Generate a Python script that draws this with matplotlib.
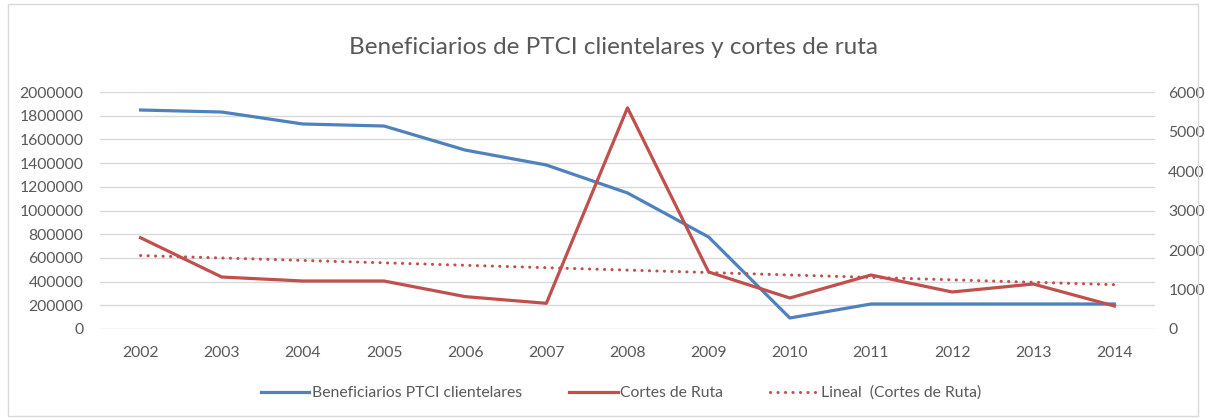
import matplotlib.pyplot as plt
import numpy as np
from matplotlib.patches import Rectangle

plt.rcParams['font.family'] = ['Lato', 'DejaVu Sans']

anios = ["2002", "2003", "2004", "2005", "2006", "2007", "2008",
         "2009", "2010", "2011", "2012", "2013", "2014"]
beneficiarios = [1848000, 1831000, 1730000, 1713000, 1510000, 1384000, 1148000,
                 776000, 93000, 211000, 211000, 211000, 211000]
cortes = [2310, 1316, 1215, 1215, 820, 650, 5600,
          1443, 785, 1367, 937, 1139, 582]

azul = "#4F81BD"
rojo = "#C0504D"
gris = "#595959"

fig = plt.figure(figsize=(12.05, 4.18), dpi=100)
ax = fig.add_axes([100 / 1205, 1 - 329 / 418, 1055 / 1205, 237 / 418])
ax2 = ax.twinx()

x = np.arange(len(anios))
l1, = ax.plot(x, beneficiarios, color=azul, lw=2.3, solid_joinstyle="round")
l2, = ax2.plot(x, cortes, color=rojo, lw=2.3, solid_joinstyle="round")
coef = np.polyfit(x, cortes, 1)
l3, = ax2.plot(x, np.polyval(coef, x), color=rojo, lw=2.2, linestyle=(0, (0.05, 2.4)),
               dash_capstyle="round")

ax.set_xlim(-0.5, 12.5)
ax.set_ylim(0, 2000000)
ax.set_yticks(np.arange(0, 2000001, 200000))
ax.set_yticklabels([str(v) for v in range(0, 2000001, 200000)])
ax2.set_ylim(0, 6000)
ax2.set_yticks(np.arange(0, 6001, 1000))
ax.set_xticks(x)
ax.set_xticklabels(anios)

ax.grid(axis="y", color="#D9D9D9", lw=1)
ax.set_axisbelow(True)
for a in (ax, ax2):
    for s in a.spines.values():
        s.set_visible(False)
    a.tick_params(length=0, labelsize=11.3, colors=gris)
ax.tick_params(axis="y", pad=12)
ax.tick_params(axis="x", pad=12)
ax2.tick_params(axis="y", pad=9.5)

fig.text(0.509, 1 - 48 / 418, "Beneficiarios de PTCI clientelares y cortes de ruta",
         ha="center", va="center", fontsize=17.5, color=gris)

fig.legend([l1, l2, l3],
           ["Beneficiarios PTCI clientelares", "Cortes de Ruta", "Lineal  (Cortes de Ruta)"],
           loc="center", bbox_to_anchor=(621 / 1205, 1 - 393 / 418), ncol=3, frameon=False,
           fontsize=11.3, labelcolor=gris, handlelength=3.1, handletextpad=0.15,
           columnspacing=3.0)

fig.patches.append(Rectangle((8 / 1205, 2 / 418), 1190 / 1205, 412 / 418,
                             transform=fig.transFigure, fill=False,
                             edgecolor="#D9D9D9", lw=1))

fig.savefig("out.png", dpi=100)
